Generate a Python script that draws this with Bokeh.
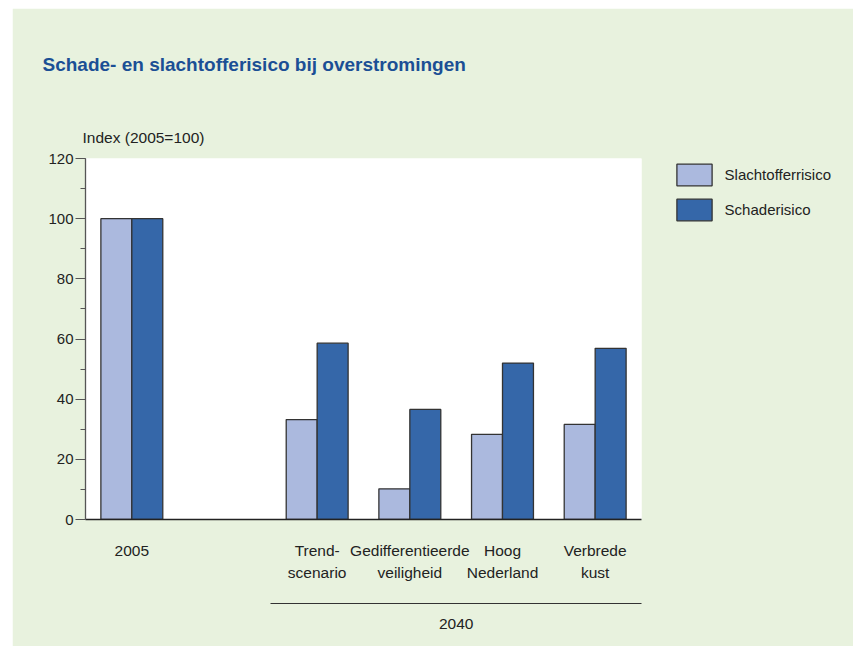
from bokeh.plotting import figure
from bokeh.models import (Range1d, FixedTicker, Legend, LegendItem, LinearAxis,
                          ColumnDataSource, Title)
from bokeh.transform import dodge
from bokeh.embed import file_html
from bokeh.resources import INLINE

# ---- data ----
categories = ["2005", "", "Trend-\nscenario", "Gedifferentieerde\nveiligheid",
              "Hoog\nNederland", "Verbrede\nkust"]
slachtoffer = [100, None, 33.2, 10.2, 28.3, 31.6]
schade = [100, None, 58.6, 36.6, 52.0, 56.9]
series_names = ["Slachtofferrisico", "Schaderisico"]
y_ticks = [0, 20, 40, 60, 80, 100, 120]
group_label = "2040"
title_text = "Schade- en slachtofferisico bij overstromingen"
y_label = "Index (2005=100)"

LIGHT = "#abb9de"
DARK = "#3567a9"
BG = "#e8f2de"
FONT = "Liberation Sans"
TXT = "#222222"
FS = "15.5px"

idx = [i for i, v in enumerate(slachtoffer) if v is not None]
src = ColumnDataSource(dict(
    x=idx,
    light=[slachtoffer[i] for i in idx],
    dark=[schade[i] for i in idx],
))

p = figure(frame_width=556, frame_height=361, output_backend="svg",
           toolbar_location=None,
           x_range=Range1d(-0.5, len(categories) - 0.5), y_range=Range1d(0, 120),
           x_axis_location=None,
           min_border_left=73, min_border_right=212, min_border_top=150,
           min_border_bottom=127, background_fill_color="white",
           border_fill_color=BG, outline_line_color=None)
p.margin = (8, 0, 0, 12)
p.grid.visible = False

bw = 0.334
r1 = p.vbar(x=dodge("x", -bw / 2), top="light", width=bw, source=src,
            fill_color=LIGHT, line_color="#333333", line_width=1.3)
r2 = p.vbar(x=dodge("x", bw / 2), top="dark", width=bw, source=src,
            fill_color=DARK, line_color="#333333", line_width=1.3)

# y axis
ya = p.yaxis[0]
ya.ticker = FixedTicker(ticks=y_ticks, minor_ticks=list(range(0, 121, 10)))
ya.major_tick_out = 10
ya.major_tick_in = 0
ya.minor_tick_out = 5
ya.minor_tick_in = 0
ya.axis_line_color = "#555555"
ya.major_tick_line_color = "#555555"
ya.minor_tick_line_color = "#555555"
ya.axis_line_width = 1.3
ya.major_label_text_font = FONT
ya.major_label_text_font_size = "15px"
ya.major_label_text_color = TXT
ya.major_label_standoff = 2

# category axis
cat_ticks = [i for i, c in enumerate(categories) if c]
xa = LinearAxis(ticker=FixedTicker(ticks=cat_ticks, minor_ticks=[]),
                major_label_overrides={i: categories[i] for i in cat_ticks},
                major_tick_out=0, major_tick_in=0,
                major_label_standoff=22,
                major_label_text_font=FONT, major_label_text_font_size=FS,
                major_label_text_color=TXT, major_label_text_line_height=1.35,
                axis_line_color="#222222", axis_line_width=1.3,
                axis_label=" ", axis_label_text_font_size="10px",
                axis_label_standoff=5)
p.add_layout(xa, "below")

# group axis (2040)
ga = LinearAxis(ticker=FixedTicker(ticks=[3.5], minor_ticks=[]),
                major_label_overrides={3.5: group_label},
                bounds=(1.5, len(categories) - 0.5),
                major_tick_out=0, major_tick_in=0, major_label_standoff=15,
                major_label_text_font=FONT, major_label_text_font_size=FS,
                major_label_text_color=TXT,
                axis_line_color="#333333", axis_line_width=1)
p.add_layout(ga, "below")

# titles
p.title.text = title_text
p.title.align = "left"
p.title.offset = -43
p.title.text_font = FONT
p.title.text_font_size = "19px"
p.title.text_font_style = "bold"
p.title.text_color = "#1b4f95"
p.title.standoff = 78
p.add_layout(Title(text=y_label, align="left", offset=-3, text_font=FONT,
                   text_font_size=FS, text_font_style="normal",
                   text_color=TXT, standoff=26), "above")

legend = Legend(items=[LegendItem(label=series_names[0], renderers=[r1]),
                       LegendItem(label=series_names[1], renderers=[r2])],
                location=(30.6, 296), orientation="vertical",
                glyph_width=44, glyph_height=27, spacing=8,
                label_standoff=9, padding=0, margin=0,
                border_line_color=None, background_fill_alpha=0,
                label_text_font=FONT, label_text_font_size="15px",
                label_text_color=TXT)
p.add_layout(legend, "right")

open("out.html", "w").write(file_html(p, INLINE))
